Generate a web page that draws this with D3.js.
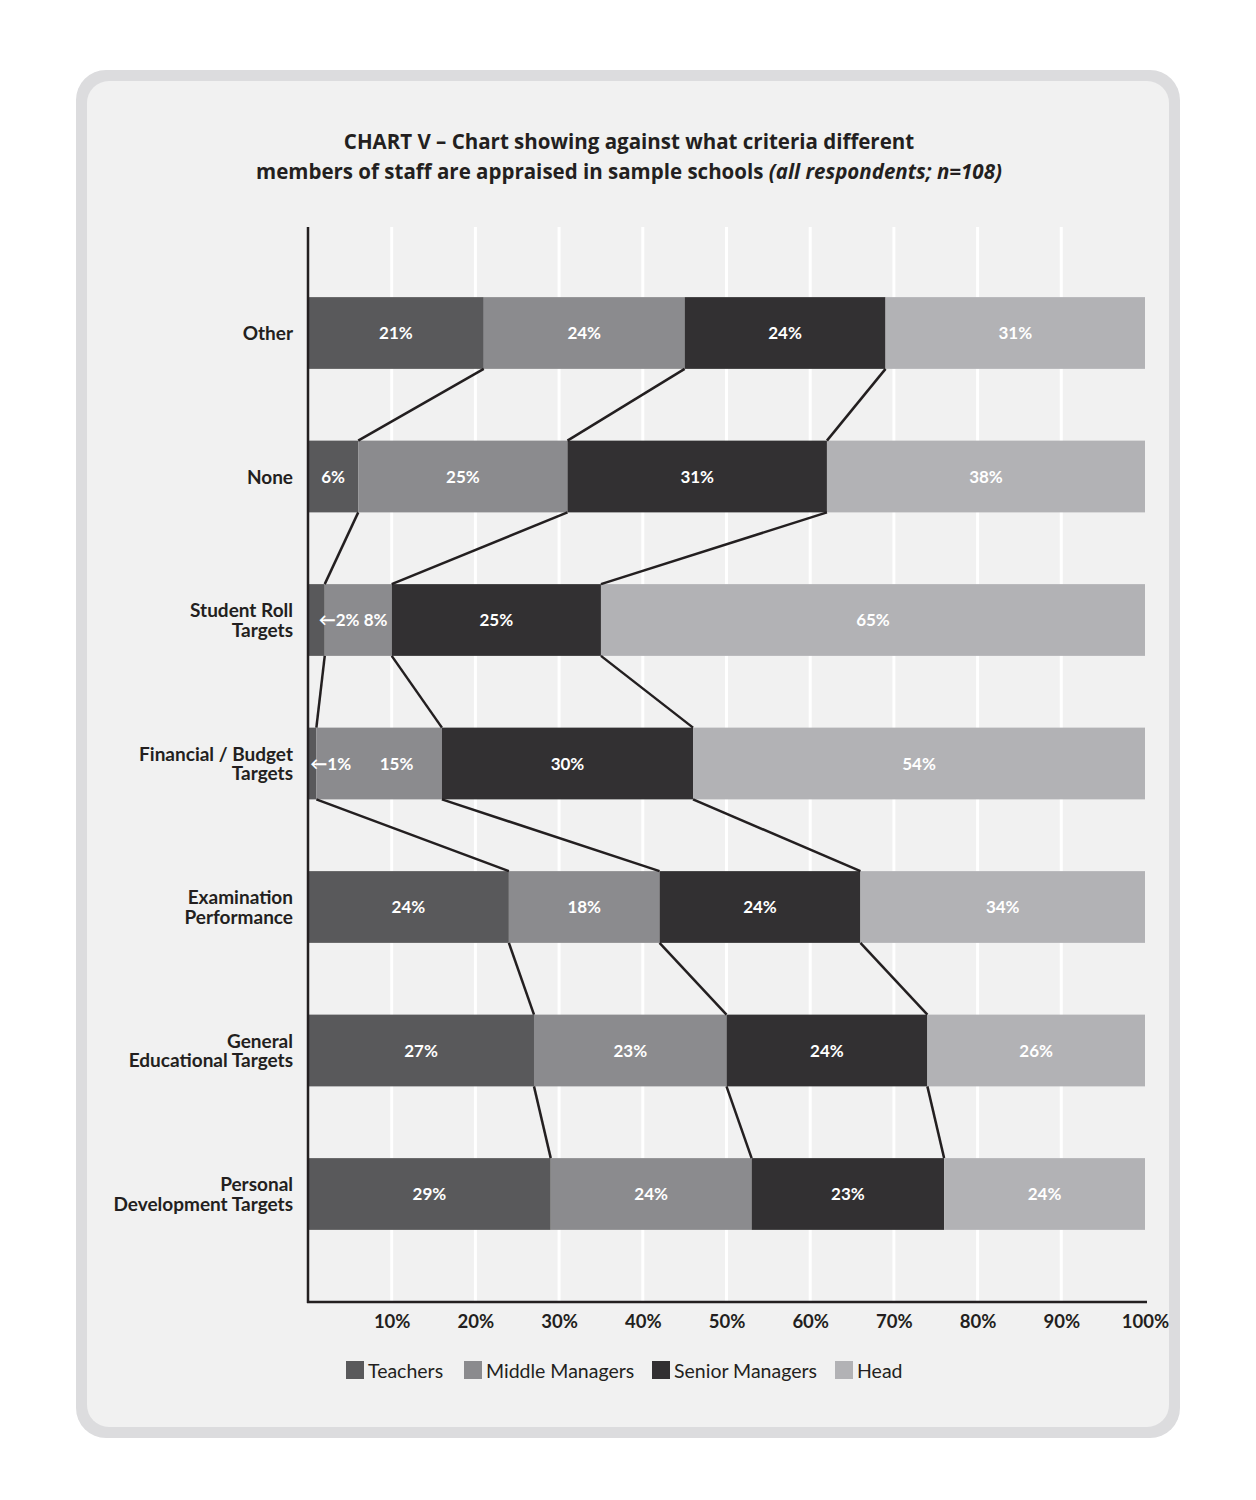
<!DOCTYPE html>
<html>
<head>
<meta charset="utf-8">
<script src="https://cdn.jsdelivr.net/npm/d3@7"></script>
<style>
  body { margin: 0; background: #ffffff; }
  svg { display: block; }
  text { font-family: Lato, "Open Sans", sans-serif; }
</style>
</head>
<body>
<div id="target_area"></div>
<script>
// chart data
var categoryLines = [
  ["Other"],
  ["None"],
  ["Student Roll", "Targets"],
  ["Financial / Budget", "Targets"],
  ["Examination", "Performance"],
  ["General", "Educational Targets"],
  ["Personal", "Development Targets"]
];
var categories = categoryLines.map(function (l) { return l.join(" "); });

var seriesNames = ["Teachers", "Middle Managers", "Senior Managers", "Head"];
var teachers       = [21,  6,  2,  1, 24, 27, 29];
var middleManagers = [24, 25,  8, 15, 18, 23, 24];
var seniorManagers = [24, 31, 25, 30, 24, 24, 23];
var head           = [31, 38, 65, 54, 34, 26, 24];

var tickValues = [10, 20, 30, 40, 50, 60, 70, 80, 90, 100];
var gridValues = [10, 20, 30, 40, 50, 60, 70, 80, 90];

var titleLine1 = "CHART V \u2013 Chart showing against what criteria different";
var titleLine2 = "members of staff are appraised in sample schools ";
var titleItalic = "(all respondents; n=108)";

// build rows for d3.stack
var rows = categories.map(function (c, i) {
  return {
    category: c,
    "Teachers": teachers[i],
    "Middle Managers": middleManagers[i],
    "Senior Managers": seniorManagers[i],
    "Head": head[i]
  };
});

var width = 1256, height = 1500;
var svg = d3.select("#target_area")
  .append("svg")
  .attr("width", width)
  .attr("height", height);

// panel
svg.append("rect")
  .attr("x", 76).attr("y", 70)
  .attr("width", 1104).attr("height", 1368)
  .attr("rx", 30).attr("ry", 30)
  .attr("fill", "#dcdcde");
svg.append("rect")
  .attr("x", 87).attr("y", 81)
  .attr("width", 1082).attr("height", 1346)
  .attr("rx", 22).attr("ry", 22)
  .attr("fill", "#f1f1f1");

// title
var title = svg.append("text")
  .attr("text-anchor", "middle")
  .attr("fill", "#231f20")
  .style("font-family", "'Open Sans', sans-serif")
  .style("font-size", "20.5px")
  .style("font-weight", 700);
title.append("tspan").attr("x", 629).attr("y", 149).text(titleLine1);
var t2 = title.append("tspan").attr("x", 629).attr("y", 179);
t2.text(titleLine2);
title.append("tspan").style("font-style", "italic").text(titleItalic);

var plotTop = 227, plotBottom = 1302;

var x = d3.scaleLinear().domain([0, 100]).range([308, 1145]);
var y = d3.scaleBand()
  .domain(categories)
  .range([261.25, 1265.75])
  .paddingInner(0.5)
  .paddingOuter(0.25);

var color = d3.scaleOrdinal()
  .domain(seriesNames)
  .range(["#59595b", "#8b8b8e", "#323032", "#b2b2b5"]);

// gridlines
svg.append("g")
  .selectAll("line")
  .data(gridValues)
  .enter().append("line")
  .attr("x1", function (d) { return x(d); })
  .attr("x2", function (d) { return x(d); })
  .attr("y1", plotTop)
  .attr("y2", plotBottom)
  .attr("stroke", "#ffffff")
  .attr("stroke-width", 3);

var stack = d3.stack().keys(seriesNames);
var layers = stack(rows);

// bars
var layerG = svg.append("g")
  .selectAll("g")
  .data(layers)
  .enter().append("g")
  .attr("fill", function (d) { return color(d.key); });

layerG.selectAll("rect")
  .data(function (d) { return d; })
  .enter().append("rect")
  .attr("x", function (d) { return x(d[0]); })
  .attr("y", function (d) { return y(d.data.category); })
  .attr("width", function (d) { return x(d[1]) - x(d[0]); })
  .attr("height", y.bandwidth());

// connector lines between bars (boundaries of the first three segments)
var links = [];
for (var k = 0; k < 3; k++) {
  for (var i = 0; i < categories.length - 1; i++) {
    links.push({
      x1: x(layers[k][i][1]), y1: y(categories[i]) + y.bandwidth(),
      x2: x(layers[k][i + 1][1]), y2: y(categories[i + 1])
    });
  }
}
svg.append("g")
  .selectAll("line")
  .data(links)
  .enter().append("line")
  .attr("x1", function (d) { return d.x1; })
  .attr("y1", function (d) { return d.y1; })
  .attr("x2", function (d) { return d.x2; })
  .attr("y2", function (d) { return d.y2; })
  .attr("stroke", "#231f20")
  .attr("stroke-width", 2.5);

// segment labels
var labelG = svg.append("g")
  .style("font-size", "17px")
  .style("font-weight", 700)
  .attr("fill", "#ffffff");

categories.forEach(function (c, i) {
  var cy = y(c) + y.bandwidth() / 2 + 6;
  var carry = null; // x where a small label pushed into next segment ends
  layers.forEach(function (layer, k) {
    var seg = layer[i];
    var v = seg[1] - seg[0];
    var x0 = x(seg[0]), x1 = x(seg[1]);
    if (v < 3) {
      var t = labelG.append("text")
        .attr("x", x1 - 6)
        .attr("y", cy)
        .attr("text-anchor", "start")
        .text("\u2190" + v + "%");
      carry = x1 - 6 + t.node().getComputedTextLength();
    } else {
      var left = carry !== null ? carry : x0;
      carry = null;
      labelG.append("text")
        .attr("x", (left + x1) / 2)
        .attr("y", cy)
        .attr("text-anchor", "middle")
        .text(v + "%");
    }
  });
});

// axes lines
svg.append("line")
  .attr("x1", 308).attr("x2", 308)
  .attr("y1", plotTop).attr("y2", plotBottom + 1)
  .attr("stroke", "#231f20").attr("stroke-width", 2.5);
svg.append("line")
  .attr("x1", 307).attr("x2", 1147)
  .attr("y1", plotBottom).attr("y2", plotBottom)
  .attr("stroke", "#231f20").attr("stroke-width", 2.5);

// x tick labels
var xAxis = d3.axisBottom(x)
  .tickValues(tickValues)
  .tickSize(0)
  .tickPadding(0)
  .tickFormat(function (d) { return d + "%"; });
var xg = svg.append("g")
  .attr("transform", "translate(0," + (plotBottom + 13) + ")")
  .call(xAxis);
xg.select(".domain").remove();
xg.selectAll("text")
  .attr("fill", "#231f20")
  .style("font-family", "Lato, sans-serif")
  .style("font-size", "18.5px")
  .style("font-weight", 700);

// category labels
var catG = svg.append("g")
  .attr("text-anchor", "end")
  .attr("fill", "#231f20")
  .style("font-size", "19px")
  .style("font-weight", 700);

categoryLines.forEach(function (lines, i) {
  var cy = y(categories[i]) + y.bandwidth() / 2;
  var lh = 19.5;
  var start = cy + 7 - (lines.length - 1) * lh / 2;
  var t = catG.append("text").attr("x", 293);
  lines.forEach(function (l, j) {
    t.append("tspan").attr("x", 293).attr("y", start + j * lh).text(l);
  });
});

// legend
var legendX = [346, 464, 652, 835];
var legend = svg.append("g")
  .selectAll("g")
  .data(seriesNames)
  .enter().append("g")
  .attr("transform", function (d, i) { return "translate(" + legendX[i] + ",1361)"; });
legend.append("rect")
  .attr("width", 18).attr("height", 18)
  .attr("fill", function (d) { return color(d); });
legend.append("text")
  .attr("x", 22).attr("y", 17)
  .attr("fill", "#231f20")
  .style("font-size", "19.5px")
  .text(function (d) { return d; });
</script>
</body>
</html>
